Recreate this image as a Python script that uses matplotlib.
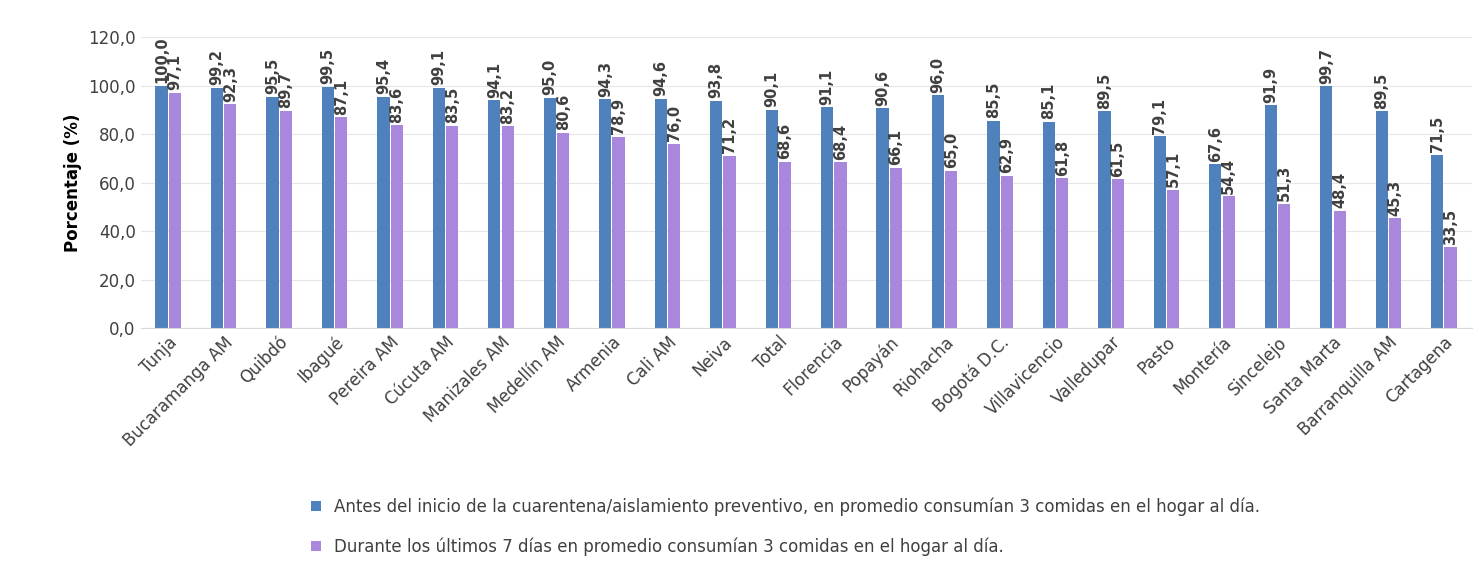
import matplotlib
matplotlib.use("Agg")
import matplotlib.pyplot as plt
import numpy as np

cats = ["Tunja","Bucaramanga AM","Quibdó","Ibagué","Pereira AM","Cúcuta AM","Manizales AM","Medellín AM","Armenia","Cali AM","Neiva","Total","Florencia","Popayán","Riohacha","Bogotá D.C.","Villavicencio","Valledupar","Pasto","Montería","Sincelejo","Santa Marta","Barranquilla AM","Cartagena"]
antes = [100.0,99.2,95.5,99.5,95.4,99.1,94.1,95.0,94.3,94.6,93.8,90.1,91.1,90.6,96.0,85.5,85.1,89.5,79.1,67.6,91.9,99.7,89.5,71.5]
durante = [97.1,92.3,89.7,87.1,83.6,83.5,83.2,80.6,78.9,76.0,71.2,68.6,68.4,66.1,65.0,62.9,61.8,61.5,57.1,54.4,51.3,48.4,45.3,33.5]
yticks = [0,20,40,60,80,100,120]
leg = ["Antes del inicio de la cuarentena/aislamiento preventivo, en promedio consumían 3 comidas en el hogar al día.",
       "Durante los últimos 7 días en promedio consumían 3 comidas en el hogar al día."]

fig = plt.figure(figsize=(14.79,5.71), dpi=100)
ax = fig.add_axes([0.095,0.425,0.9,0.51])
x = np.arange(len(cats))
w = 0.22
c1, c2 = "#4f81bd", "#a887dc"
b1 = ax.bar(x-w/2-0.01, antes, w, color=c1, label=leg[0])
b2 = ax.bar(x+w/2+0.01, durante, w, color=c2, label=leg[1])
for xs, vals in ((x-w/2-0.01, antes), (x+w/2+0.01, durante)):
    for xi, v in zip(xs, vals):
        ax.text(xi, v+1, f"{v:.1f}".replace(".", ","), rotation=90, ha="center", va="bottom",
                fontsize=10.5, fontweight="bold", color="#404040")
ax.set_ylim(0,120)
ax.set_xlim(-0.5, len(cats)-0.5)
ax.set_yticks(yticks)
ax.set_yticklabels([f"{t:.1f}".replace(".", ",") for t in yticks], fontsize=12, color="#404040")
ax.set_xticks(x)
ax.set_xticklabels(cats, rotation=45, ha="right", rotation_mode="anchor", fontsize=12, color="#404040")
ax.tick_params(length=0)
ax.grid(axis="y", color="#e6e6e6")
ax.set_axisbelow(True)
for s in ["top","right","left"]:
    ax.spines[s].set_visible(False)
ax.spines["bottom"].set_color("#d9d9d9")
ax.set_ylabel("Porcentaje (%)", fontsize=12, fontweight="bold")
fig.legend(handles=[b1,b2], labels=leg, loc="lower left", bbox_to_anchor=(0.2,0.0), frameon=False,
           fontsize=12, handlelength=0.6, handleheight=0.6, labelcolor="#404040", labelspacing=1.3)
fig.savefig("out.png", dpi=100)
